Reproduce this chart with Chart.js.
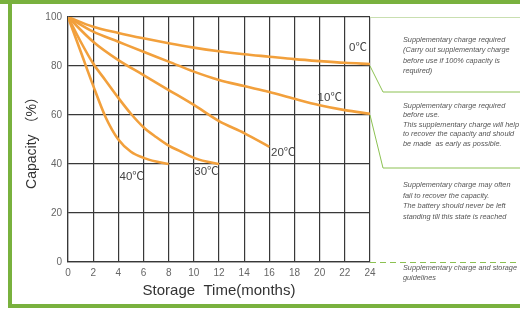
<!DOCTYPE html>
<html>
<head>
<meta charset="utf-8">
<script src="https://cdn.jsdelivr.net/npm/chart.js@4/dist/chart.umd.min.js"></script>
<style>
  html, body { margin:0; padding:0; background:#fff; }
  #wrap { position:relative; width:520px; height:310px; overflow:hidden; background:#fff; }
  #c { position:absolute; left:0; top:0; }
  .bar { position:absolute; background:#79b13e; }
  .note { position:absolute; left:403px; font-family:"Liberation Sans", Arial, sans-serif; font-style:italic;
          font-size:7.3px; color:#555; white-space:nowrap; }
</style>
</head>
<body>
<div id="wrap">
  <div class="bar" style="left:0;top:0;width:520px;height:4px;"></div>
  <div class="bar" style="left:8px;top:0;width:4px;height:308px;"></div>
  <div class="bar" style="left:8px;top:304px;width:512px;height:4px;"></div>
  <canvas id="c" width="520" height="310"></canvas>
  <div class="note" style="top:35px;line-height:10.4px;">Supplementary charge required<br>(Carry out supplementary charge<br>before use if 100% capacity is<br>required)</div>
  <div class="note" style="top:101px;line-height:9.4px;">Supplementary charge required<br>before use.<br>This supplementary charge will help<br>to recover the capacity and should<br>be made&nbsp; as early as possible.</div>
  <div class="note" style="top:180px;line-height:10.6px;">Supplementary charge may often<br>fail to recover the capacity.<br>The battery should never be left<br>standing till this state is reached</div>
  <div class="note" style="top:263px;line-height:10px;">Supplementary charge and storage<br>guidelines</div>
</div>
<script>
// ---- data ----
const monthTicks = [0,2,4,6,8,10,12,14,16,18,20,22,24];
const capacityTicks = [0,20,40,60,80,100];

const t0C_months   = [0,2,4,6,8,10,12,14,16,18,20,22,24];
const t0C_capacity = [100,96,93.5,91.3,89.3,87.5,86,84.8,83.8,82.8,82,81.3,80.8];

const t10C_months   = [0,2,4,6,8,10,12,14,16,18,20,22,24];
const t10C_capacity = [100,94,89.9,85.8,81.8,77.7,74.3,71.8,69.4,66.6,64,62,60.5];

const t20C_months   = [0,2,4,6,8,10,12,14,16];
const t20C_capacity = [100,89.9,82.4,76.3,70.2,64.1,57.5,52.6,47];

const t30C_months   = [0,1,2,3,4,5,6,7,8,9,10,11,12];
const t30C_capacity = [100,90,81,74,67,60.5,55,51,47.5,45,42.5,41,40];

const t40C_months   = [0,1,2,3,4,5,6,7,8];
const t40C_capacity = [100,86,72,59,50,45,42.5,41,40];

const curveLabels   = ['0℃','10℃','20℃','30℃','40℃'];
const labelMonth    = [23.05, 20.8, 17.1, 11.0, 5.06];
const labelCapacity = [87.3, 67, 44.5, 36.9, 34.8];

// ---- build ----
const pts = (xs, ys) => xs.map((x, i) => ({x, y: ys[i]}));
const ORANGE = '#f2a03c';
const series = [
  pts(t0C_months, t0C_capacity),
  pts(t10C_months, t10C_capacity),
  pts(t20C_months, t20C_capacity),
  pts(t30C_months, t30C_capacity),
  pts(t40C_months, t40C_capacity)
];
const GRID = '#383838';
const FONT = '"Liberation Sans", Arial, "Noto Sans CJK SC", sans-serif';

const labelPlugin = {
  id: 'curveLabels',
  afterDatasetsDraw(chart) {
    const {ctx, scales: {x, y}} = chart;
    ctx.save();
    ctx.font = '11.5px ' + FONT;
    ctx.fillStyle = '#444';
    ctx.textAlign = 'center';
    ctx.textBaseline = 'middle';
    curveLabels.forEach((t, i) => {
      ctx.fillText(t, x.getPixelForValue(labelMonth[i]), y.getPixelForValue(labelCapacity[i]));
    });
    ctx.restore();
  }
};

const panelPlugin = {
  id: 'panelLines',
  afterDraw(chart) {
    const {ctx, chartArea: a, scales: {y}} = chart;
    const W = chart.width;
    ctx.save();
    ctx.lineWidth = 1;
    ctx.strokeStyle = '#c9dfb0';
    ctx.beginPath(); ctx.moveTo(a.right, y.getPixelForValue(100) + 0.5); ctx.lineTo(W, y.getPixelForValue(100) + 0.5); ctx.stroke();
    ctx.strokeStyle = '#8cc152';
    const y80 = y.getPixelForValue(80), y60 = y.getPixelForValue(60), y0 = y.getPixelForValue(0);
    ctx.beginPath(); ctx.moveTo(a.right, y80); ctx.lineTo(a.right + 13, y80 + 26); ctx.lineTo(W, y80 + 26); ctx.stroke();
    ctx.beginPath(); ctx.moveTo(a.right, y60); ctx.lineTo(a.right + 13, y60 + 53); ctx.lineTo(W, y60 + 53); ctx.stroke();
    ctx.setLineDash([6, 4]);
    ctx.beginPath(); ctx.moveTo(a.right, y0 + 0.5); ctx.lineTo(W, y0 + 0.5); ctx.stroke();
    ctx.restore();
  }
};

new Chart(document.getElementById('c'), {
  type: 'line',
  data: {
    datasets: series.map(d => ({
      data: d,
      borderColor: ORANGE,
      borderWidth: 2.6,
      pointRadius: 0,
      fill: false,
      cubicInterpolationMode: 'monotone'
    }))
  },
  options: {
    responsive: false,
    animation: false,
    events: [],
    layout: { padding: { left: 0, right: 150, top: 17, bottom: 0 } },
    plugins: { legend: { display: false }, tooltip: { enabled: false } },
    scales: {
      x: {
        type: 'linear', min: 0, max: 24,
        afterBuildTicks: s => { s.ticks = monthTicks.map(v => ({value: v})); },
        afterFit: s => { s.height = 48; },
        grid: { color: GRID, lineWidth: 1.2, drawTicks: false },
        border: { color: GRID, width: 1.2 },
        ticks: { padding: 5, color: '#666', font: { size: 10, family: FONT }, maxRotation: 0 },
        title: { display: true, text: 'Storage  Time(months)', color: '#333',
                 font: { size: 15, family: FONT }, padding: { top: 0, bottom: 10 } }
      },
      y: {
        min: 0, max: 100,
        afterBuildTicks: s => { s.ticks = capacityTicks.map(v => ({value: v})); },
        afterFit: s => { s.width = 68; },
        grid: { color: GRID, lineWidth: 1.2, drawTicks: false },
        border: { color: GRID, width: 1.2 },
        ticks: { padding: 6, color: '#666', font: { size: 10, family: FONT } },
        title: { display: true, text: 'Capacity （%）', color: '#333',
                 font: { size: 14, family: FONT }, padding: { top: 24, bottom: 0 } }
      }
    }
  },
  plugins: [labelPlugin, panelPlugin]
});
</script>
</body>
</html>
